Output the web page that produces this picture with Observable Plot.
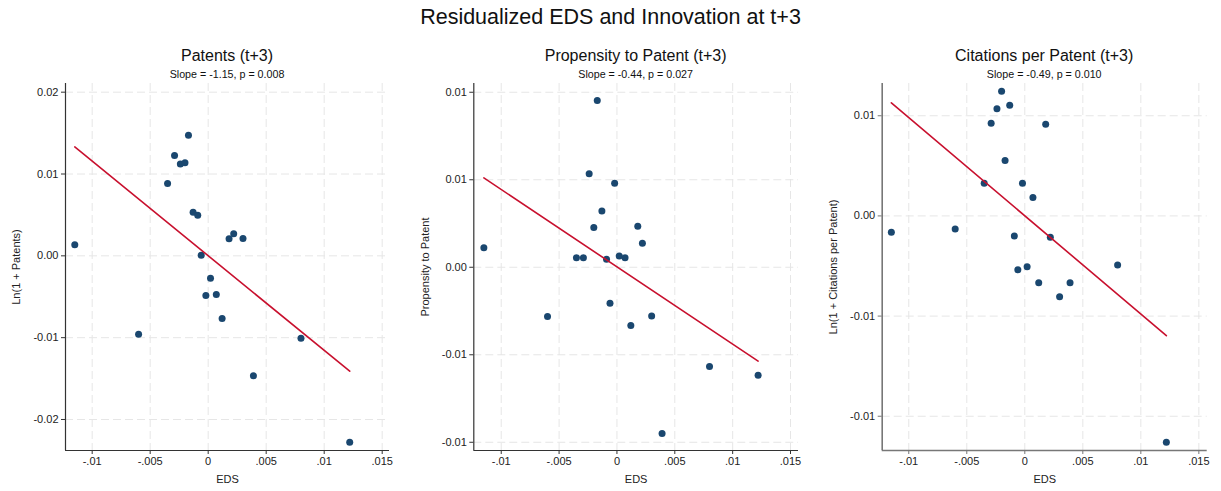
<!DOCTYPE html>
<html>
<head>
<meta charset="utf-8">
<script src="https://cdn.jsdelivr.net/npm/d3@7"></script>
<script src="https://cdn.jsdelivr.net/npm/@observablehq/plot@0.6"></script>
<style>
  html, body { margin: 0; padding: 0; background: #fff; }
  #chart { position: relative; width: 1221px; height: 491px; font-family: "Liberation Sans", Arial, Helvetica, sans-serif; color: #111; overflow: hidden; }
  .main-title { position: absolute; left: 0; width: 1221px; top: 5px; text-align: center; font-size: 21.5px; }
  .ptitle { position: absolute; text-align: center; font-size: 16px; white-space: nowrap; }
  .psub { position: absolute; text-align: center; font-size: 10.7px; white-space: nowrap; }
  .panel { position: absolute; top: 80px; }
</style>
</head>
<body>
<div id="chart"></div>
<script>
// ---- data ----
const mainTitle = "Residualized EDS and Innovation at t+3";
const eds = [-0.0115, -0.0060, -0.0035, -0.0029, -0.0024, -0.0020, -0.0017, -0.0013, -0.0009, -0.0006,
             -0.0002, 0.0002, 0.0007, 0.0012, 0.0018, 0.0022, 0.0030, 0.0039, 0.0080, 0.0122];
const patents = [0.00134, -0.00957, 0.00884, 0.01226, 0.01121, 0.01137, 0.01475, 0.00534, 0.00497, 0.00008,
                 -0.00485, -0.00273, -0.00473, -0.00766, 0.00208, 0.00269, 0.00212, -0.01467, -0.01006, -0.02278];
const propensity = [0.00111, -0.00282, 0.00054, 0.00054, 0.00535, 0.00227, 0.00953, 0.00322, 0.00046, -0.00206,
                    0.00480, 0.00065, 0.00055, -0.00333, 0.00234, 0.00137, -0.00278, -0.00950, -0.00567, -0.00617];
const citations = [-0.00082, -0.00065, 0.00163, 0.00462, 0.00535, 0.00622, 0.00277, 0.00553, -0.00100, -0.00269,
                   0.00163, -0.00254, 0.00092, -0.00334, 0.00458, -0.00107, -0.00404, -0.00334, -0.00245, -0.01130];
const panelTitles = ["Patents (t+3)", "Propensity to Patent (t+3)", "Citations per Patent (t+3)"];
const panelSubtitles = ["Slope = -1.15, p = 0.008", "Slope = -0.44, p = 0.027", "Slope = -0.49, p = 0.010"];
const yLabels = ["Ln(1 + Patents)", "Propensity to Patent", "Ln(1 + Citations per Patent)"];
const xLabel = "EDS";
const xTicks = [-0.01, -0.005, 0, 0.005, 0.01, 0.015];
const xTickLabels = ["-.01", "-.005", "0", ".005", ".01", ".015"];
const yTicks1 = [0.02, 0.01, 0, -0.01, -0.02];
const yTickLabels1 = ["0.02", "0.01", "0.00", "-0.01", "-0.02"];
const yTicks2 = [0.01, 0.005, 0, -0.005, -0.01];
const yTickLabels2 = ["0.01", "0.01", "0.00", "-0.01", "-0.01"];
const yTicks3 = [0.005, 0, -0.005, -0.01];
const yTickLabels3 = ["0.01", "0.00", "-0.01", "-0.01"];

// ---- layout ----
const panels = [
  {values: patents, yTicks: yTicks1, yTickLabels: yTickLabels1, left: 0, width: 405, marginLeft: 65, marginRight: 16,
   xDomain: [-0.0123, 0.01563], yDomain: [-0.02379, 0.02106], axisColor: "#333", axisWidth: 1.2},
  {values: propensity, yTicks: yTicks2, yTickLabels: yTickLabels2, left: 405, width: 410, marginLeft: 68.3, marginRight: 17,
   xDomain: [-0.01237, 0.01569], yDomain: [-0.01047, 0.0105], axisColor: "#333", axisWidth: 1.2},
  {values: citations, yTicks: yTicks3, yTickLabels: yTickLabels3, left: 810, width: 411, marginLeft: 71.7, marginRight: 14.3,
   xDomain: [-0.01229, 0.01572], yDomain: [-0.01171, 0.00661], axisColor: "#777", axisWidth: 1.6}
];

const chart = document.getElementById("chart");
const t = document.createElement("div");
t.className = "main-title"; t.textContent = mainTitle; chart.appendChild(t);

const fontFamily = '"Liberation Sans", Arial, Helvetica, sans-serif';
const gridColor = "#e6e6e6";

panels.forEach((p, k) => {
  const data = eds.map((x, i) => ({x, y: p.values[i]}));
  const frameLeft = p.left + p.marginLeft;
  const frameRight = p.left + p.width - p.marginRight;
  const center = (frameLeft + frameRight) / 2;

  const ti = document.createElement("div");
  ti.className = "ptitle"; ti.textContent = panelTitles[k];
  ti.style.left = (center - 200) + "px"; ti.style.width = "400px"; ti.style.top = "47px";
  chart.appendChild(ti);
  const su = document.createElement("div");
  su.className = "psub"; su.textContent = panelSubtitles[k];
  su.style.left = (center - 200) + "px"; su.style.width = "400px"; su.style.top = "68px";
  chart.appendChild(su);

  const svg = Plot.plot({
    width: p.width, height: 411,
    marginLeft: p.marginLeft, marginRight: p.marginRight, marginTop: 3, marginBottom: 41,
    style: {fontFamily, fontSize: "11px", color: "#222", background: "transparent", overflow: "visible"},
    x: {domain: p.xDomain},
    y: {domain: p.yDomain},
    marks: [
      Plot.gridX(xTicks, {stroke: gridColor, strokeOpacity: 1, strokeDasharray: "8,4"}),
      Plot.gridY(p.yTicks, {stroke: gridColor, strokeOpacity: 1, strokeDasharray: "8,4"}),
      Plot.axisX({ticks: xTicks, tickFormat: (d, i) => xTickLabels[i], tickSize: 4, tickPadding: 3,
                  label: xLabel, labelAnchor: "center", labelArrow: "none", labelOffset: 32, stroke: p.axisColor}),
      Plot.axisY({ticks: p.yTicks, tickFormat: (d, i) => p.yTickLabels[i], tickSize: 4, tickPadding: 3,
                  label: yLabels[k], labelAnchor: "center", labelArrow: "none", labelOffset: 53, stroke: p.axisColor}),
      Plot.ruleX([p.xDomain[0]], {stroke: p.axisColor, strokeWidth: p.axisWidth}),
      Plot.ruleY([p.yDomain[0]], {stroke: p.axisColor, strokeWidth: p.axisWidth}),
      Plot.dot(data, {x: "x", y: "y", r: 3.5, fill: "#1a476f", stroke: "none"}),
      Plot.linearRegressionY(data, {x: "x", y: "y", ci: 0, stroke: "#c8102e", strokeWidth: 1.6})
    ]
  });
  const wrap = document.createElement("div");
  wrap.className = "panel";
  wrap.style.left = p.left + "px";
  wrap.appendChild(svg);
  chart.appendChild(wrap);
});
</script>
</body>
</html>
